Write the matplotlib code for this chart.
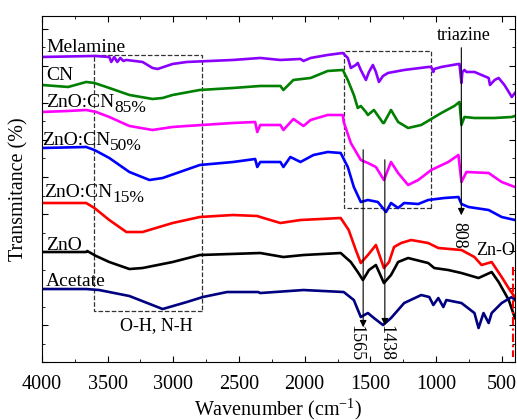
import matplotlib
matplotlib.use("Agg")
import matplotlib.pyplot as plt
from matplotlib.patches import Rectangle
from matplotlib.ticker import MultipleLocator

plt.rcParams["font.family"] = ["Liberation Serif", "DejaVu Serif"]
plt.rcParams["mathtext.fontset"] = "custom"
plt.rcParams["mathtext.rm"] = "Liberation Serif"
plt.rcParams["mathtext.it"] = "Liberation Serif:italic"

# FTIR spectra, transmittance in arbitrary (offset) units
melamine_wn = [4000, 3600, 3487, 3472, 3449, 3426, 3403, 3380, 3357, 3234, 3158, 3119, 3005,
               2897, 2545, 2338, 2185, 2032, 2009, 1955, 1825, 1710, 1672, 1649, 1611, 1596,
               1573, 1534, 1511, 1481, 1458, 1435, 1404, 1366, 1243, 1060, 1037, 1021, 1014,
               960, 830, 822, 807, 800, 784, 769, 708, 654, 600, 590, 554, 524, 480, 447, 424, 400]
melamine_t = [305, 306, 305, 300, 305, 300, 304, 301, 302, 300, 294, 293, 298,
              300, 302, 304, 302, 303, 301, 304, 307, 309, 304, 294, 297, 299,
              292, 282, 290, 297, 290, 280, 286, 289, 292, 295, 295, 290, 293,
              295, 298, 298, 279, 290, 292, 290, 290, 287, 284, 277, 282, 284, 277, 270, 265, 269]

cn_wn = [4000, 3800, 3663, 3600, 3487, 3334, 3158, 3081, 3005, 2798, 2545, 2338, 2185, 2162,
         2086, 1955, 1825, 1710, 1672, 1626, 1596, 1573, 1534, 1519, 1473, 1404, 1397, 1343,
         1289, 1213, 1113, 960, 861, 822, 807, 784, 708, 554, 424, 400]
cn_t = [277, 275, 280, 279, 274, 267, 263, 264, 267, 272, 274, 276, 276, 272,
        282, 284, 291, 292, 282, 267, 254, 256, 250, 247, 252, 239, 239, 252,
        240, 234, 237, 249, 256, 260, 237, 245, 244, 244, 245, 246]

cn85_wn = [4000, 3800, 3663, 3587, 3487, 3334, 3158, 3005, 2897, 2545, 2377, 2361, 2338, 2185,
           2162, 2086, 2009, 1955, 1825, 1710, 1703, 1649, 1573, 1519, 1458, 1397, 1343, 1289,
           1213, 1136, 1037, 907, 830, 807, 769, 600, 501, 400]
cn85_t = [250, 251, 252, 250, 245, 236, 232, 235, 236, 239, 240, 230, 237, 237,
          232, 243, 236, 242, 247, 247, 240, 219, 202, 199, 195, 182, 200, 189,
          177, 182, 192, 200, 207, 180, 190, 189, 180, 175]

cn50_wn = [4000, 3663, 3600, 3487, 3334, 3181, 3081, 2798, 2545, 2377, 2361, 2338, 2185, 2162,
           2109, 2032, 1933, 1825, 1726, 1672, 1626, 1573, 1519, 1443, 1381, 1343, 1289, 1243,
           1136, 1060, 937, 830, 807, 753, 600, 501, 400]
cn50_t = [214, 215, 212, 204, 190, 182, 184, 197, 200, 203, 195, 200, 200, 195,
          205, 200, 207, 210, 209, 195, 175, 160, 162, 160, 150, 159, 154, 159,
          158, 162, 164, 165, 158, 155, 152, 145, 142]

cn15_wn = [4000, 3663, 3600, 3487, 3357, 3234, 3005, 2798, 2545, 2361, 2338, 2185, 2032, 1726,
           1665, 1611, 1573, 1519, 1458, 1397, 1358, 1320, 1266, 1190, 1060, 983, 807, 708,
           654, 577, 501, 439, 400]
cn15_t = [159, 159, 154, 142, 130, 130, 139, 145, 147, 146, 145, 139, 142, 144,
          132, 112, 99, 107, 117, 94, 100, 115, 119, 122, 119, 114, 112, 105,
          97, 100, 85, 72, 65]

zno_wn = [4000, 3663, 3655, 3587, 3487, 3334, 3234, 3005, 2798, 2338, 2162, 2009, 1726, 1649,
          1596, 1557, 1511, 1458, 1397, 1343, 1289, 1213, 1060, 1014, 907, 807, 677, 577,
          524, 447, 400]
zno_t = [110, 110, 111, 106, 100, 93, 94, 100, 107, 109, 105, 107, 109, 100,
         90, 82, 92, 97, 79, 87, 100, 104, 99, 94, 92, 89, 84, 90,
         80, 62, 44]

acetate_wn = [4000, 3663, 3564, 3334, 3081, 2897, 2775, 2591, 2354, 2338, 2009, 1703, 1626, 1573,
              1519, 1473, 1404, 1343, 1243, 1113, 1052, 1021, 983, 945, 922, 807, 708, 677,
              639, 600, 577, 501, 424, 400]
acetate_t = [73, 73, 72, 66, 53, 60, 65, 70, 70, 69, 72, 70, 62, 45,
             49, 44, 37, 44, 59, 67, 65, 57, 64, 55, 62, 59, 49, 34,
             49, 39, 49, 59, 65, 62]

series = [
    (melamine_wn, melamine_t, "#8a00ff"),
    (cn_wn, cn_t, "#008000"),
    (cn85_wn, cn85_t, "#ff00ff"),
    (cn50_wn, cn50_t, "#0000ff"),
    (cn15_wn, cn15_t, "#ff0000"),
    (zno_wn, zno_t, "#000000"),
    (acetate_wn, acetate_t, "#000080"),
]

fig = plt.figure(figsize=(5.17, 4.20), dpi=100)
ax = fig.add_axes([0.081, 0.138, 0.915, 0.824])

for wn, t, c in series:
    ax.plot(wn, t, color=c, lw=1.9)

fs = 14


def label(x, y, main, sub=None):
    # large subscript, dropped a few pixels below the baseline
    t = ax.text(x, y, main, fontsize=fs)
    if sub:
        ax.annotate(sub, xy=(1, 0), xycoords=t, xytext=(0, -5), textcoords="offset pixels",
                    fontsize=12.5, va="bottom")


label(3969, 310, "Melamine")
label(3969, 282, "CN")
label(3969, 255, "ZnO:CN", "85%")
label(4000, 217, "ZnO:CN", "50%")
label(3985, 165, "ZnO:CN", "15%")
label(3969, 112, "ZnO")
label(3969, 76, "Acetate")

# band annotations
ax.add_patch(Rectangle((2780, 51), 820, 256, fill=False, ls="--", lw=0.9, ec="#333333"))
ax.add_patch(Rectangle((1040, 154), 660, 157, fill=False, ls="--", lw=0.9, ec="#333333"))
ax.text(3127, 32, "O-H, N-H", fontsize=13, ha="center")
ax.text(792, 322, "triazine", fontsize=13, ha="center")
ax.text(692, 107, "Zn-O", fontsize=13)

arrow = dict(arrowstyle="-|>", color="black", lw=0.8, mutation_scale=10)
ax.annotate("", xy=(808, 144), xytext=(808, 317), arrowprops=arrow)
ax.annotate("", xy=(1555, 32), xytext=(1555, 215), arrowprops=arrow)
ax.annotate("", xy=(1390, 34), xytext=(1390, 205), arrowprops=arrow)
ax.text(830, 140, "808", fontsize=13, rotation=-90, ha="center", va="top")
ax.text(1611, 37, "1565", fontsize=13, rotation=-90, ha="center", va="top")
ax.text(1381, 37, "1438", fontsize=13, rotation=-90, ha="center", va="top")
ax.plot([417, 417], [95, 5], color="red", ls=(0, (4, 1.5, 1, 1.5)), lw=1.5)

ax.set_xlim(4000, 400)
ax.set_ylim(0, 346)
ax.xaxis.set_major_locator(MultipleLocator(500))
ax.xaxis.set_minor_locator(MultipleLocator(250))
ax.yaxis.set_major_locator(MultipleLocator(37))
ax.yaxis.set_minor_locator(MultipleLocator(18.5))
ax.set_yticklabels([])
ax.tick_params(which="both", direction="in", top=True, right=True, labelsize=14.5)
ax.tick_params(axis="x", which="both", pad=9)
ax.tick_params(which="major", length=4)
ax.tick_params(which="minor", length=2)
ax.set_xlabel("Wavenumber (cm$^{-1}$)", fontsize=14.5, labelpad=2)
ax.set_ylabel("Transmitance (%)", fontsize=14.5, labelpad=6)

fig.savefig("out.png", dpi=100)
